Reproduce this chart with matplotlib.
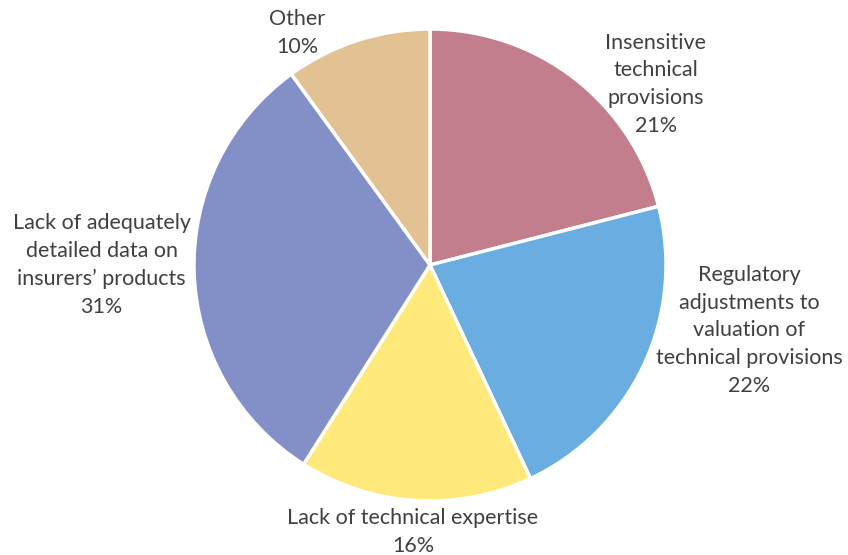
import matplotlib
matplotlib.use("Agg")
import matplotlib.pyplot as plt

labels = ["Insensitive\ntechnical\nprovisions",
          "Regulatory\nadjustments to\nvaluation of\ntechnical provisions",
          "Lack of technical expertise",
          "Lack of adequately\ndetailed data on\ninsurers\u2019 products",
          "Other"]
values = [21, 22, 16, 31, 10]
colors = ["#C37E8E", "#69ADE1", "#FFE97A", "#838FC7", "#E2C293"]
label_pos = [(0.957, 0.766), (1.353, -0.277), (-0.072, -1.132), (-1.391, 0.0), (-0.562, 0.983)]

plt.rcParams['font.family'] = ['Lato', 'DejaVu Sans']
fig = plt.figure(figsize=(8.48, 5.55), dpi=100)
cx, cy, r = 430/848, (555-265)/555, 236
ax = fig.add_axes([cx - r/848, cy - r/555, 2*r/848, 2*r/555])
ax.pie(values, colors=colors, startangle=90, counterclock=False, radius=1,
       wedgeprops=dict(edgecolor="white", linewidth=2.5))
ax.set_xlim(-1, 1)
ax.set_ylim(-1, 1)
for lab, v, (x, y) in zip(labels, values, label_pos):
    ax.text(x, y, f"{lab}\n{v}%", ha="center", va="center", fontsize=15.5,
            color="#404040", linespacing=1.48, clip_on=False)
fig.savefig("out.png", dpi=100)
